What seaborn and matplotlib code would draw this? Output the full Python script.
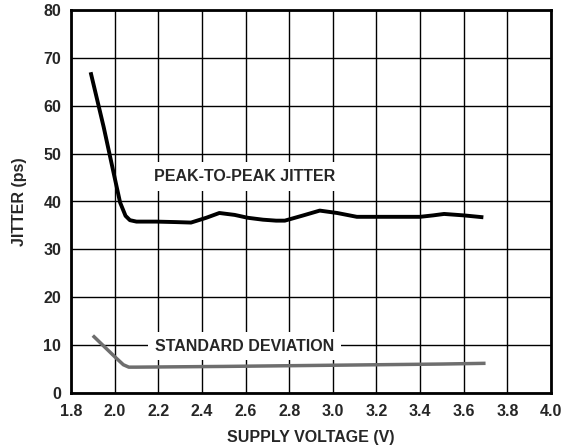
import matplotlib
matplotlib.use("Agg")
import matplotlib.pyplot as plt
import seaborn as sns
import pandas as pd

# Peak-to-peak jitter vs supply voltage
pp_voltage = [1.89, 1.95, 2.00, 2.025, 2.05, 2.07, 2.10, 2.19, 2.28, 2.35, 2.42, 2.48, 2.55,
              2.61, 2.68, 2.74, 2.78, 2.865, 2.94, 3.02, 3.11, 3.25, 3.40, 3.46, 3.51, 3.60, 3.69]
pp_jitter = [67.0, 55.5, 45.0, 39.8, 37.0, 36.1, 35.8, 35.8, 35.7, 35.6, 36.6, 37.6, 37.2,
             36.6, 36.2, 36.0, 36.0, 37.1, 38.1, 37.6, 36.8, 36.8, 36.8, 37.1, 37.4, 37.1, 36.7]

# Standard deviation of jitter vs supply voltage
sd_voltage = [1.90, 1.95, 2.00, 2.04, 2.065, 2.10, 2.50, 3.00, 3.50, 3.70]
sd_jitter = [12.0, 9.8, 7.6, 5.9, 5.4, 5.4, 5.55, 5.8, 6.05, 6.2]

x_ticks = [1.8, 2.0, 2.2, 2.4, 2.6, 2.8, 3.0, 3.2, 3.4, 3.6, 3.8, 4.0]
y_ticks = [0, 10, 20, 30, 40, 50, 60, 70, 80]

sns.set_style("white")
plt.rcParams["font.family"] = ["Liberation Sans", "DejaVu Sans"]
plt.rcParams["font.weight"] = "bold"

FS = 11.5

fig = plt.figure(figsize=(5.71, 4.48), dpi=100)
ax = fig.add_axes([71 / 571, 1 - 393 / 448, 480 / 571, 383 / 448])

pp = pd.DataFrame({"v": pp_voltage, "j": pp_jitter})
sd = pd.DataFrame({"v": sd_voltage, "j": sd_jitter})

sns.lineplot(data=pp, x="v", y="j", ax=ax, color="black", linewidth=2.8,
             sort=False, zorder=4, solid_capstyle="butt")
sns.lineplot(data=sd, x="v", y="j", ax=ax, color="#6e6e6e", linewidth=2.5,
             sort=False, zorder=4, solid_capstyle="butt")

ax.set_xlim(1.8, 4.0)
ax.set_ylim(0, 80)
ax.set_xticks(x_ticks)
ax.set_xticklabels([f"{t:.1f}" for t in x_ticks])
ax.set_yticks(y_ticks)
ax.set_yticklabels([str(t) for t in y_ticks])
ax.tick_params(axis="both", length=0, labelsize=FS)
ax.tick_params(axis="x", pad=8)
ax.tick_params(axis="y", pad=7)
for lbl in ax.get_xticklabels() + ax.get_yticklabels():
    lbl.set_fontweight("bold")

ax.grid(True, color="black", linewidth=1.0)
ax.set_axisbelow(True)
for s in ax.spines.values():
    s.set_color("black")
    s.set_linewidth(2.0)
    s.set_visible(True)

ax.set_xlabel("SUPPLY VOLTAGE (V)", fontsize=FS, fontweight="bold", labelpad=8)
ax.set_ylabel("JITTER (ps)", fontsize=FS, fontweight="bold", labelpad=12)

box = dict(facecolor="white", edgecolor="none", pad=5)
ax.text(2.595, 45.2, "PEAK-TO-PEAK JITTER", fontsize=FS, fontweight="bold",
        ha="center", va="center", bbox=box, zorder=3)
ax.text(2.595, 9.8, "STANDARD DEVIATION", fontsize=FS, fontweight="bold",
        ha="center", va="center", bbox=box, zorder=3)

fig.savefig("out.png", dpi=100)
